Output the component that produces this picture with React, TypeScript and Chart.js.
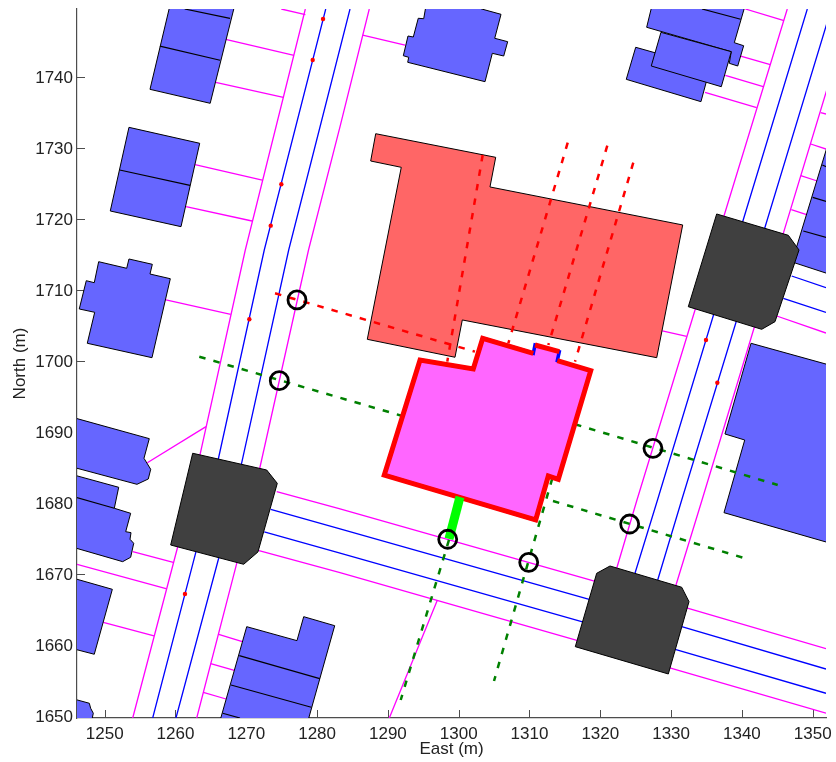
import React, { useEffect, useRef } from "react";
import { Chart, registerables } from "chart.js";

Chart.register(...registerables);

type P = [number, number];

const xTickValues = [1250, 1260, 1270, 1280, 1290, 1300, 1310, 1320, 1330, 1340, 1350];
const yTickValues = [1650, 1660, 1670, 1680, 1690, 1700, 1710, 1720, 1730, 1740];

// Roads
const roadWestMagentaA: P[] = [[1278.34,1749.63],[1269.86,1715.64],[1263.46,1686.73],[1260.26,1673.57],[1253.96,1649.63]];
const roadWestBlueA: P[] = [[1281.22,1749.63],[1272.54,1715.64],[1266.05,1686.16],[1262.86,1672.95],[1256.78,1649.63]];
const roadWestBlueB: P[] = [[1284.65,1749.63],[1275.99,1715.64],[1269.35,1685.6],[1266.1,1672.16],[1260.07,1649.63]];
const roadWestMagentaB: P[] = [[1287.37,1749.63],[1283.24,1733.03],[1278.79,1715.64],[1271.94,1685.03],[1268.65,1671.45],[1263.0,1649.63]];
const roadSouthMagentaA: P[] = [[1274.3,1681.55],[1283.24,1679.11],[1318.55,1669.1],[1332.43,1665.1],[1351.88,1659.41]];
const roadSouthBlueA: P[] = [[1273.45,1679.07],[1283.24,1676.29],[1318.31,1666.38],[1331.5,1662.51],[1351.88,1656.54]];
const roadSouthBlueB: P[] = [[1272.54,1675.87],[1283.24,1672.9],[1317.37,1663.22],[1330.69,1659.27],[1351.88,1653.12]];
const roadSouthMagentaB: P[] = [[1271.8,1673.23],[1283.24,1670.13],[1316.57,1660.63],[1329.94,1656.68],[1351.88,1650.3]];
const roadEastMagentaA: P[] = [[1346.41,1749.63],[1337.51,1720.58],[1333.38,1707.18],[1325.18,1680.38],[1322.32,1670.75]];
const roadEastBlueA: P[] = [[1349.24,1749.63],[1340.11,1719.63],[1335.96,1706.37],[1328.08,1680.38],[1324.9,1670.04]];
const roadEastBlueB: P[] = [[1353.01,1750.9],[1343.22,1718.7],[1339.17,1705.44],[1331.5,1680.38],[1328.11,1669.1]];
const roadEastMagentaB: P[] = [[1353.01,1741.59],[1345.85,1717.99],[1341.71,1704.6],[1334.37,1680.38],[1330.65,1668.25]];
const roadNorthEastMagentaA: P[] = [[1347.74,1714.61],[1351.88,1713.2]];
const roadNorthEastBlueA: P[] = [[1347.03,1711.97],[1351.88,1710.32]];
const roadNorthEastBlueB: P[] = [[1345.85,1708.83],[1351.88,1706.85]];
const roadNorthEastMagentaB: P[] = [[1344.92,1706.33],[1351.88,1703.93]];

// Property lines
const spurs: P[][] = [
  [[1274.95,1749.63],[1278.34,1748.83]],
  [[1267.09,1745.36],[1276.74,1743.1]],
  [[1265.68,1739.29],[1275.23,1737.18]],
  [[1262.76,1727.67],[1272.26,1725.51]],
  [[1261.49,1721.75],[1270.81,1719.73]],
  [[1258.66,1708.59],[1267.8,1706.57]],
  [[1256.02,1685.64],[1264.31,1690.72]],
  [[1253.96,1673.09],[1259.69,1671.59]],
  [[1246.09,1671.31],[1258.66,1667.87]],
  [[1249.8,1663.13],[1256.97,1661.2]],
  [[1266.1,1661.44],[1269.44,1660.39]],
  [[1264.97,1657.29],[1268.31,1656.36]],
  [[1263.93,1653.26],[1267.14,1652.31]],
  [[1286.44,1745.96],[1292.42,1744.55]],
  [[1296.98,1666.23],[1290.2,1649.63]],
  [[1340.48,1749.63],[1345.95,1747.98]],
  [[1339.83,1743],[1344.01,1741.77]],
  [[1337.66,1740.28],[1343.02,1738.67]],
  [[1334.79,1737.88],[1342.09,1735.71]],
  [[1351.13,1735],[1351.88,1734.82]],
  [[1349.72,1730.59],[1351.88,1729.88]],
  [[1348.31,1726.12],[1350.65,1725.37]],
  [[1346.98,1721.32],[1349.24,1720.58]],
  [[1328.76,1704.22],[1332.2,1703.47]],
];

const lightPoles: P[] = [[1280.84,1748.22],[1279.38,1742.44],[1274.95,1724.91],[1273.45,1719.07],[1270.43,1705.87],[1261.34,1667.12],[1334.93,1702.95],[1336.53,1696.92]];

// Neighbouring houses
const houseA: P[] = [[1259.4,1750.9],[1256.4,1738.3],[1264.9,1736.33],[1268.55,1750.9]];
const houseB: P[] = [[1253.43,1732.94],[1263.42,1730.69],[1260.78,1718.93],[1250.79,1721.14]];
const houseC: P[] = [[1249.15,1713.99],[1253.11,1713.06],[1253.43,1714.37],[1256.73,1713.62],[1256.4,1712.25],[1259.27,1711.59],[1256.68,1700.45],[1247.54,1702.48],[1248.59,1706.85],[1246.41,1707.32],[1247.4,1711.31],[1248.53,1711.03]];
const houseD: P[] = [[1245.1,1692.13],[1256.3,1689.03],[1255.55,1686.26],[1256.5,1684.71],[1256.16,1683.34],[1254.56,1682.59],[1245.1,1685.12]];
const houseE: P[] = [[1245.1,1684.05],[1251.98,1682.17],[1251.36,1679.21],[1253.67,1678.5],[1252.97,1675.91],[1253.72,1675.77],[1253.58,1674.84],[1254.1,1674.27],[1253.67,1672.3],[1252.54,1671.68],[1245.1,1673.83]];
const houseF: P[] = [[1245.1,1669.48],[1251.08,1667.78],[1248.53,1658.62],[1245.1,1659.51]];
const houseG: P[] = [[1245.1,1652.45],[1247.83,1651.71],[1248.02,1651],[1248.39,1650.3],[1248.25,1649.63],[1247.93,1648.65],[1245.1,1648.65]];
const houseH: P[] = [[1270.06,1662.51],[1277.16,1660.54],[1278.11,1663.92],[1282.49,1662.65],[1278.15,1647.23],[1265.72,1647.23]];
const houseI: P[] = [[1295.52,1750.9],[1300.18,1750.9],[1303.25,1749.63],[1305.98,1748.88],[1305.09,1745.5],[1306.92,1745.02],[1306.36,1743],[1304.75,1743.38],[1303.72,1739.38],[1292.8,1742.11],[1292.94,1742.82],[1292.18,1743.04],[1292.84,1745.82],[1293.59,1745.68],[1294.29,1748.32],[1295.06,1748.26]];
const houseT3: P[] = [[1325,1744.23],[1335.49,1741.27],[1334.22,1736.56],[1323.67,1739.71]];
const houseT1: P[] = [[1327.49,1750.9],[1326.55,1747.05],[1338.5,1743.61],[1338.22,1741.97],[1339.41,1741.59],[1340.25,1744.45],[1338.93,1744.88],[1340.68,1750.9]];
const houseT2: P[] = [[1328.57,1746.34],[1338.5,1743.61],[1337.09,1738.67],[1327.2,1741.59]];
const houseJ: P[] = [[1353.15,1733.83],[1347.08,1713.95],[1353.15,1711.97]];
const houseK: P[] = [[1341.29,1702.48],[1353.86,1699],[1353.86,1673.89],[1337.47,1678.59],[1340.4,1688.84],[1337.61,1689.69]];

const houseDividers: P[][] = [
  [[1257.8,1744.4],[1266.3,1742.4]],
  [[1261.3,1749.63],[1267.7,1748.3]],
  [[1252.12,1726.92],[1262.05,1724.76]],
  [[1245.1,1680.99],[1251.36,1679.21]],
  [[1269.01,1658.42],[1280.37,1655.18]],
  [[1267.84,1654.29],[1279.18,1651.14]],
  [[1266.67,1650.3],[1269.11,1649.63]],
  [[1334.37,1749.63],[1339.83,1748.18]],
  [[1351.36,1727.63],[1353.15,1726.82]],
  [[1350,1723.07],[1353.15,1722.13]],
  [[1348.67,1718.32],[1353.15,1717.05]],
];

// Dark intersections
const darkWest: P[] = [[1262.43,1686.97],[1272.88,1684.61],[1274.38,1682.73],[1271.65,1673.05],[1269.63,1671.31],[1259.32,1674.03]];
const darkNorthEast: P[] = [[1336.44,1720.72],[1346.56,1717.71],[1348.07,1715.64],[1344.68,1705.53],[1342.8,1704.45],[1332.43,1707.64]];
const darkSouthEast: P[] = [[1316.47,1659.69],[1319.49,1670.04],[1321.37,1671.07],[1331.5,1668.07],[1332.53,1666.04],[1329.61,1655.84]];

// Target and source buildings
const redBuilding: P[] = [[1288.28,1732.04],[1305.23,1728.71],[1304.42,1724.53],[1331.64,1719.17],[1327.97,1700.45],[1300.51,1705.77],[1299.48,1700.51],[1287.09,1703.04],[1291.89,1727.3],[1287.57,1728.19]];
const mainHouse: P[] = [[1294.54,1700.13],[1302.06,1698.86],[1303.39,1703.19],[1310.54,1701.07],[1310.78,1702.24],[1314.21,1701.3],[1313.93,1700.03],[1318.65,1698.62],[1314.07,1683.3],[1312.66,1683.76],[1310.88,1677.56],[1289.49,1683.9]];
const mainHouseRedA: P[] = [[1313.93,1700.03],[1318.65,1698.62],[1314.07,1683.3],[1312.66,1683.76],[1310.88,1677.56],[1289.49,1683.9],[1294.54,1700.13],[1302.06,1698.86],[1303.39,1703.19],[1310.54,1701.07]];
const mainHouseRedB: P[] = [[1310.78,1702.24],[1314.21,1701.3]];
const greenWalk: P[] = [[1300.18,1680.8],[1298.63,1674.88]];

// Measurement lines
const redDashed: P[][] = [
  [[1274.06,1709.53],[1302.3,1701.3]],
  [[1303.39,1729.04],[1298.39,1699.89]],
  [[1315.4,1730.77],[1307.01,1702.48]],
  [[1320.99,1730.35],[1312.66,1702.24]],
  [[1324.66,1727.95],[1316.43,1699.89]],
];
const greenDashed: P[][] = [
  [[1263.36,1700.59],[1292.04,1692.23]],
  [[1316.43,1691.06],[1345.06,1682.5]],
  [[1313.32,1680.24],[1340.44,1672.16]],
  [[1298.63,1674.74],[1291.81,1652.17]],
  [[1313.22,1683.44],[1304.99,1654.85]],
];
const microphones: P[] = [[1277.16,1708.59],[1274.66,1697.21],[1327.44,1687.67],[1324.15,1676.99],[1298.45,1674.84],[1309.89,1671.59]];

const MAGENTA = "#ff00ff";
const BLUE = "#0000ff";
const FONT = '"Liberation Sans", Arial, sans-serif';
const AXIS = "#4d4d4d";

const pts = (a: P[]) => a.map(([x, y]) => ({ x, y }));

const line = (a: P[], color: string, width: number, dash: number[] = []) => ({
  data: pts(a),
  showLine: true,
  fill: false,
  tension: 0,
  pointRadius: 0,
  borderColor: color,
  borderWidth: width,
  borderDash: dash,
  borderCapStyle: "butt",
  borderJoinStyle: "miter",
  clip: false,
});

const poly = (a: P[], fillColor: string, stroke: string, width = 1) => ({
  ...line([...a, a[0]], stroke, width),
  fill: "shape",
  backgroundColor: fillColor,
});

const frame = {
  id: "frame",
  beforeDatasetsDraw(chart: any) {
    const { ctx, chartArea: a, scales } = chart;
    ctx.save();
    ctx.strokeStyle = AXIS;
    ctx.lineWidth = 1;
    ctx.beginPath();
    for (const t of scales.x.ticks) {
      const p = Math.round(scales.x.getPixelForValue(t.value)) + 0.5;
      ctx.moveTo(p, a.bottom);
      ctx.lineTo(p, a.bottom - 8);
    }
    for (const t of scales.y.ticks) {
      const p = Math.round(scales.y.getPixelForValue(t.value)) + 0.5;
      ctx.moveTo(a.left, p);
      ctx.lineTo(a.left + 8, p);
    }
    ctx.stroke();
    ctx.restore();
    ctx.save();
    ctx.beginPath();
    ctx.rect(a.left, a.top, a.right - a.left, a.bottom - a.top);
    ctx.clip();
  },
  afterDatasetsDraw(chart: any) {
    chart.ctx.restore();
  },
};

export default function App() {
  const ref = useRef<HTMLCanvasElement>(null);
  useEffect(() => {
    const blueHouse = "#6666ff";
    const dark = "#404040";
    const layers: any[] = [
      ...[roadWestMagentaA, roadWestMagentaB, roadSouthMagentaA, roadSouthMagentaB, roadEastMagentaA, roadEastMagentaB, roadNorthEastMagentaA, roadNorthEastMagentaB].map((r) => line(r, MAGENTA, 1.3)),
      ...[roadWestBlueA, roadWestBlueB, roadSouthBlueA, roadSouthBlueB, roadEastBlueA, roadEastBlueB, roadNorthEastBlueA, roadNorthEastBlueB].map((r) => line(r, BLUE, 1.3)),
      ...spurs.map((s) => line(s, MAGENTA, 1.3)),
      ...[houseA, houseB, houseC, houseD, houseE, houseF, houseG, houseH, houseI, houseJ, houseK, houseT3, houseT1, houseT2].map((h) => poly(h, blueHouse, "#000000")),
      ...houseDividers.map((d) => line(d, "#000000", 1.2)),
      ...[darkWest, darkNorthEast, darkSouthEast].map((d) => poly(d, dark, "#000000")),
      poly(redBuilding, "#ff6666", "#000000"),
      ...redDashed.map((d) => line(d, "#ff0000", 2.5, [6.5, 8.2])),
      ...greenDashed.map((d) => line(d, "#008000", 2.5, [6.5, 8.2])),
      poly(mainHouse, "#ff66ff", BLUE, 3.5),
      line(mainHouseRedA, "#ff0000", 5),
      line(mainHouseRedB, "#ff0000", 5),
      line(greenWalk, "#00ff00", 9),
      {
        data: pts(lightPoles),
        showLine: false,
        pointRadius: 2.2,
        pointBackgroundColor: "#ff0000",
        pointBorderWidth: 0,
        clip: false,
      },
      {
        data: pts(microphones),
        showLine: false,
        pointRadius: 9,
        pointBackgroundColor: "rgba(0,0,0,0)",
        pointBorderColor: "#000000",
        pointBorderWidth: 2.8,
        clip: false,
      },
    ];
    layers.forEach((d, i) => (d.order = -i));

    const tickFont = { family: FONT, size: 17 };
    const chart = new Chart(ref.current as HTMLCanvasElement, {
      type: "scatter",
      data: { datasets: layers },
      plugins: [frame],
      options: {
        animation: false,
        responsive: false,
        devicePixelRatio: 1,
        layout: { autoPadding: false, padding: { top: 9, right: 10, left: 0, bottom: 0 } },
        plugins: { legend: { display: false }, tooltip: { enabled: false } },
        scales: {
          x: {
            type: "linear",
            min: 1246.09,
            max: 1351.88,
            afterFit: (s: any) => { s.height = 44; s.paddingLeft = 0; s.paddingRight = 0; },
            afterBuildTicks: (s: any) => { s.ticks = xTickValues.map((value) => ({ value })); },
            grid: { display: false, drawTicks: false },
            border: { display: true, color: AXIS, width: 1.2 },
            ticks: { font: tickFont, color: "#222222", padding: 6, maxRotation: 0, autoSkip: false, callback: (v: any) => String(v) },
            title: { display: true, text: "East (m)", font: tickFont, color: "#222222", padding: { top: 0, bottom: 2 } },
          },
          y: {
            type: "linear",
            min: 1649.63,
            max: 1749.63,
            afterFit: (s: any) => { s.width = 77; s.paddingTop = 0; s.paddingBottom = 0; },
            afterBuildTicks: (s: any) => { s.ticks = yTickValues.map((value) => ({ value })); },
            grid: { display: false, drawTicks: false },
            border: { display: true, color: AXIS, width: 1.2 },
            ticks: { font: tickFont, color: "#222222", padding: 4, labelOffset: 1.5, autoSkip: false, callback: (v: any) => String(v) },
            title: { display: true, text: "North (m)", font: tickFont, color: "#222222", padding: { top: 10, bottom: 0 } },
          },
        },
      },
    } as any);
    return () => chart.destroy();
  }, []);
  return (
    <canvas
      ref={ref}
      width={836}
      height={762}
      style={{ position: "absolute", left: 0, top: 0, display: "block" }}
    />
  );
}
